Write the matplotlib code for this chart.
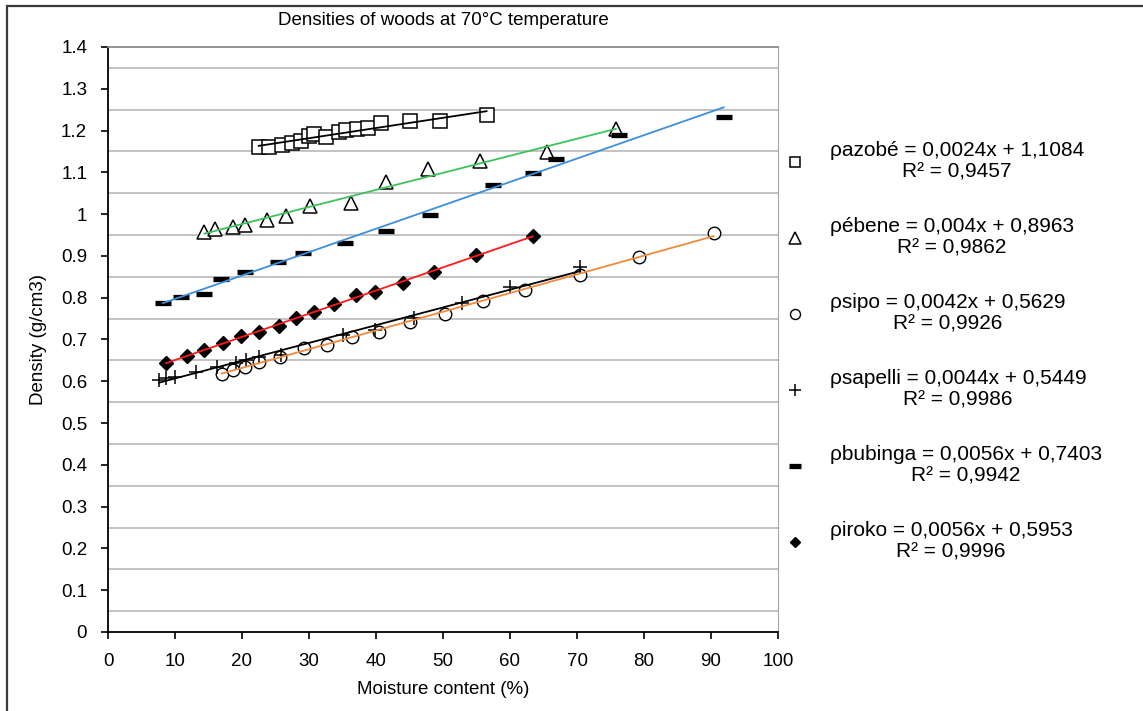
import numpy as np
import matplotlib.pyplot as plt
from matplotlib.ticker import FuncFormatter, FixedLocator
from matplotlib.patches import Rectangle

plt.rcParams['font.family'] = ['Liberation Sans', 'DejaVu Sans']

# moisture content (%) and density (g/cm3)
azobe_x = [22.5, 24.0, 26.0, 27.4, 28.8, 30.0, 30.8, 32.5, 34.5, 35.5, 37.2, 38.8, 40.8, 45.1, 49.6, 56.5]
azobe_y = [1.161, 1.161, 1.166, 1.170, 1.174, 1.187, 1.191, 1.185, 1.197, 1.201, 1.204, 1.205, 1.218, 1.222, 1.224, 1.237]

ebene_x = [14.4, 15.9, 18.6, 20.4, 23.7, 26.5, 30.1, 36.2, 41.5, 47.7, 55.5, 65.5, 75.8]
ebene_y = [0.958, 0.964, 0.970, 0.974, 0.986, 0.995, 1.019, 1.026, 1.078, 1.107, 1.128, 1.149, 1.203]

sipo_x = [17.0, 18.6, 20.4, 22.6, 25.6, 29.3, 32.7, 36.4, 40.4, 45.1, 50.3, 56.0, 62.3, 70.5, 79.2, 90.4]
sipo_y = [0.618, 0.627, 0.635, 0.647, 0.659, 0.679, 0.687, 0.707, 0.719, 0.742, 0.762, 0.792, 0.818, 0.854, 0.898, 0.956]

sapelli_x = [7.6, 8.7, 10.0, 13.2, 16.2, 19.1, 20.6, 22.6, 25.8, 35.0, 39.9, 45.6, 52.9, 60.0, 70.5]
sapelli_y = [0.603, 0.607, 0.611, 0.623, 0.635, 0.643, 0.651, 0.659, 0.663, 0.711, 0.723, 0.751, 0.788, 0.825, 0.874]

bubinga_x = [8.2, 10.9, 14.3, 16.9, 20.4, 25.4, 29.1, 35.4, 41.5, 48.1, 57.4, 63.5, 66.9, 76.2, 91.9]
bubinga_y = [0.787, 0.802, 0.810, 0.845, 0.862, 0.886, 0.906, 0.932, 0.960, 0.998, 1.070, 1.098, 1.132, 1.189, 1.233]

iroko_x = [8.7, 11.8, 14.4, 17.1, 19.9, 22.5, 25.5, 28.1, 30.8, 33.7, 37.0, 39.8, 44.1, 48.6, 54.9, 63.4]
iroko_y = [0.644, 0.660, 0.676, 0.691, 0.708, 0.719, 0.732, 0.751, 0.765, 0.785, 0.806, 0.814, 0.836, 0.862, 0.902, 0.948]

# trendline equations as printed in the legend
names = ['azobé', 'ébene', 'sipo', 'sapelli', 'bubinga', 'iroko']
slopes = [0.0024, 0.004, 0.0042, 0.0044, 0.0056, 0.0056]
intercepts = [1.1084, 0.8963, 0.5629, 0.5449, 0.7403, 0.5953]
r2 = [0.9457, 0.9862, 0.9926, 0.9986, 0.9942, 0.9996]

xs_all = [azobe_x, ebene_x, sipo_x, sapelli_x, bubinga_x, iroko_x]
ys_all = [azobe_y, ebene_y, sipo_y, sapelli_y, bubinga_y, iroko_y]

# marker, size, face, edge width
styles = [('s', 9.5, 'white', 1.1),
          ('^', 10, 'white', 1.1),
          ('o', 9, 'white', 1.0),
          ('+', 10, 'black', 1.1),
          ('_', 11, 'black', 3.8),
          ('D', 7, 'black', 1.0)]
line_cols = ['black', '#3dc25e', '#f08a3c', 'black', '#3d8fdc', '#ff1a1a']

fig = plt.figure(figsize=(11.43, 7.11), dpi=100)
ax = fig.add_axes([108/1143, 1 - 632/711, (778 - 108)/1143, (632 - 47)/711])


def fmt(v):
    return ('%g' % v).replace('.', ',')


for i in range(6):
    m, ms, fc, mew = styles[i]
    lab = 'ρ%s = %sx + %s\nR² = %s' % (names[i], fmt(slopes[i]), fmt(intercepts[i]), fmt(r2[i]))
    ax.plot(xs_all[i], ys_all[i], linestyle='none', marker=m, ms=ms, mfc=fc,
            mec='black', mew=mew, label=lab, zorder=3)
    # linear trendline over the data range
    k, b = np.polyfit(xs_all[i], ys_all[i], 1)
    xx = np.array([min(xs_all[i]), max(xs_all[i])])
    ax.plot(xx, k*xx + b, color=line_cols[i], lw=1.3, zorder=4)

ax.set_xlim(0, 100)
ax.set_ylim(0, 1.4)
ax.set_xticks(np.arange(0, 101, 10))
ax.set_yticks(np.arange(0, 1.41, 0.1))
ax.yaxis.set_major_formatter(FuncFormatter(lambda v, p: '%g' % round(v, 1)))
ax.yaxis.set_minor_locator(FixedLocator(np.arange(0.05, 1.4, 0.1)))
ax.grid(which='minor', axis='y', color='#c3c3c3', lw=1.4)
ax.tick_params(which='minor', length=0)
ax.tick_params(which='major', direction='out', length=5, width=1.2, labelsize=13.5, pad=10)

for s in ['left', 'bottom']:
    ax.spines[s].set_color('black')
    ax.spines[s].set_linewidth(1.3)
ax.spines['top'].set_color('#8a8a8a')
ax.spines['right'].set_color('#a6a6a6')
ax.spines['top'].set_linewidth(1.3)

ax.set_title('Densities of woods at 70°C temperature', fontsize=13.5, pad=16)
ax.set_xlabel('Moisture content (%)', fontsize=13.5, labelpad=8)
ax.set_ylabel('Density (g/cm3)', fontsize=13.5, labelpad=10)

leg = ax.legend(loc='upper left', bbox_to_anchor=(786/1143, 1 - 141/711),
                bbox_transform=fig.transFigure, frameon=False, fontsize=15,
                handlelength=0.9, handletextpad=1.2, labelspacing=1.68,
                borderaxespad=0, borderpad=0, markerscale=0.8)
for t in leg.get_texts():
    t.set_multialignment('center')

fig.patches.append(Rectangle((7/1143, -0.1), 1.2, 1.1 - 6/711, transform=fig.transFigure,
                             fill=False, ec='#3a3a3a', lw=1.6))

fig.savefig('out.png', dpi=100)
